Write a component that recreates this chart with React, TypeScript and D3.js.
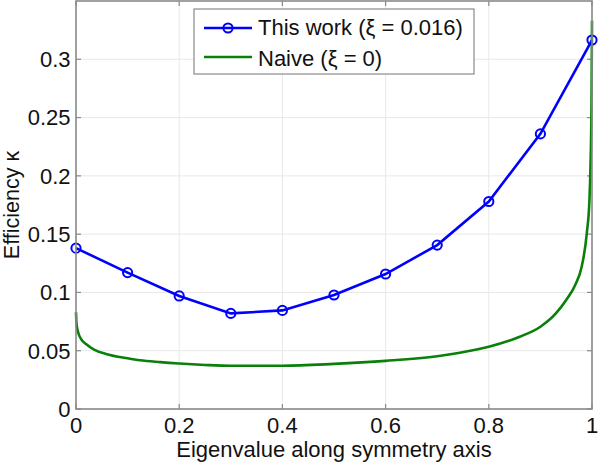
import React from "react";
import * as d3 from "d3";

const blueX = [0, 0.1, 0.2, 0.3, 0.4, 0.5, 0.6, 0.7, 0.8, 0.9, 1.0];
const blueY = [0.138, 0.117, 0.097, 0.082, 0.0846, 0.0978, 0.1158, 0.1406, 0.178, 0.236, 0.3165];

const greenX = [0, 0.001, 0.004, 0.01, 0.02, 0.035, 0.06, 0.1, 0.124, 0.163, 0.2, 0.25, 0.3, 0.4, 0.5, 0.6, 0.7, 0.744, 0.8, 0.86, 0.9, 0.93, 0.95, 0.967, 0.98, 0.99, 0.995, 0.997, 0.999, 1];
const greenY = [0.083, 0.073, 0.066, 0.06, 0.0555, 0.051, 0.047, 0.0435, 0.0418, 0.0402, 0.039, 0.0378, 0.0371, 0.0371, 0.0387, 0.0413, 0.0453, 0.0483, 0.0534, 0.062, 0.0706, 0.082, 0.0935, 0.106, 0.122, 0.151, 0.179, 0.207, 0.26, 0.333];

const xTicks = [0, 0.2, 0.4, 0.6, 0.8, 1];
const xTickLabels = ["0", "0.2", "0.4", "0.6", "0.8", "1"];
const yTicks = [0, 0.05, 0.1, 0.15, 0.2, 0.25, 0.3];
const yTickLabels = ["0", "0.05", "0.1", "0.15", "0.2", "0.25", "0.3"];

const seriesNames = ["This work (\u03be = 0.016)", "Naive (\u03be = 0)"];
const xLabel = "Eigenvalue along symmetry axis";
const yLabel = "Efficiency \u03ba";

const W = 600, H = 464;
const L = 76, R = 592, T = 1, B = 409;
const FONT = "'Liberation Sans', Arial, sans-serif";
const AXIS = "#8a8a8a";
const GRID = "#e8e8e8";
const BLUE = "#0000ff";
const GREEN = "#0a800a";

export default function App() {
  const x = d3.scaleLinear().domain([0, 1]).range([L, R]);
  const y = d3.scaleLinear().domain([0, 0.35]).range([B, T]);

  const blueLine = d3.line<number>().x((_, i) => x(blueX[i])).y((d) => y(d))(blueY) || "";
  const greenLine = d3
    .line<number>()
    .x((_, i) => x(greenX[i]))
    .y((d) => y(d))
    .curve(d3.curveMonotoneX)(greenY) || "";

  return (
    <svg width={W} height={H} style={{ position: "absolute", left: 0, top: 0, background: "#fff" }} fontFamily={FONT}>
      <rect x={0} y={0} width={W} height={H} fill="#fff" />
      {/* grid */}
      {xTicks.map((t) => (
        <line key={"gx" + t} x1={x(t)} x2={x(t)} y1={T} y2={B} stroke={GRID} strokeWidth={1} />
      ))}
      {yTicks.map((t) => (
        <line key={"gy" + t} x1={L} x2={R} y1={y(t)} y2={y(t)} stroke={GRID} strokeWidth={1} />
      ))}
      {/* ticks */}
      {xTicks.map((t) => (
        <g key={"tx" + t}>
          <line x1={x(t)} x2={x(t)} y1={B} y2={B - 5} stroke={AXIS} strokeWidth={1.2} />
          <line x1={x(t)} x2={x(t)} y1={T} y2={T + 5} stroke={AXIS} strokeWidth={1.2} />
        </g>
      ))}
      {yTicks.map((t) => (
        <g key={"ty" + t}>
          <line x1={L} x2={L + 5} y1={y(t)} y2={y(t)} stroke={AXIS} strokeWidth={1.2} />
          <line x1={R} x2={R - 5} y1={y(t)} y2={y(t)} stroke={AXIS} strokeWidth={1.2} />
        </g>
      ))}
      {/* series */}
      <path d={greenLine} fill="none" stroke={GREEN} strokeWidth={2.6} />
      <path d={blueLine} fill="none" stroke={BLUE} strokeWidth={2.6} />
      {blueY.map((v, i) => (
        <circle key={"m" + i} cx={x(blueX[i])} cy={y(v)} r={4.6} fill="none" stroke={BLUE} strokeWidth={2} />
      ))}
      {/* box */}
      <rect x={L} y={T} width={R - L} height={B - T} fill="none" stroke={AXIS} strokeWidth={1.6} />
      {/* tick labels */}
      {xTicks.map((t, i) => (
        <text key={"lx" + t} x={x(t)} y={433} textAnchor="middle" fontSize={22} fill="#111">
          {xTickLabels[i]}
        </text>
      ))}
      {yTicks.map((t, i) => (
        <text key={"ly" + t} x={70.5} y={y(t)} dy="0.36em" textAnchor="end" fontSize={22} fill="#111">
          {yTickLabels[i]}
        </text>
      ))}
      {/* axis labels */}
      <text x={(L + R) / 2} y={457} textAnchor="middle" fontSize={22} fill="#111">
        {xLabel}
      </text>
      <text transform={`translate(19,${(T + B) / 2}) rotate(-90)`} textAnchor="middle" fontSize={21.5} fill="#111">
        {yLabel}
      </text>
      {/* legend */}
      <rect x={194} y={9} width={280} height={65} fill="#fff" stroke={AXIS} strokeWidth={1.2} />
      <line x1={204} x2={252} y1={28} y2={28} stroke={BLUE} strokeWidth={2.6} />
      <circle cx={228} cy={28} r={4.6} fill="none" stroke={BLUE} strokeWidth={2} />
      <text x={258} y={35} fontSize={22} fill="#111">{seriesNames[0]}</text>
      <line x1={204} x2={252} y1={57} y2={57} stroke={GREEN} strokeWidth={2.6} />
      <text x={258} y={66} fontSize={22} fill="#111">{seriesNames[1]}</text>
    </svg>
  );
}
